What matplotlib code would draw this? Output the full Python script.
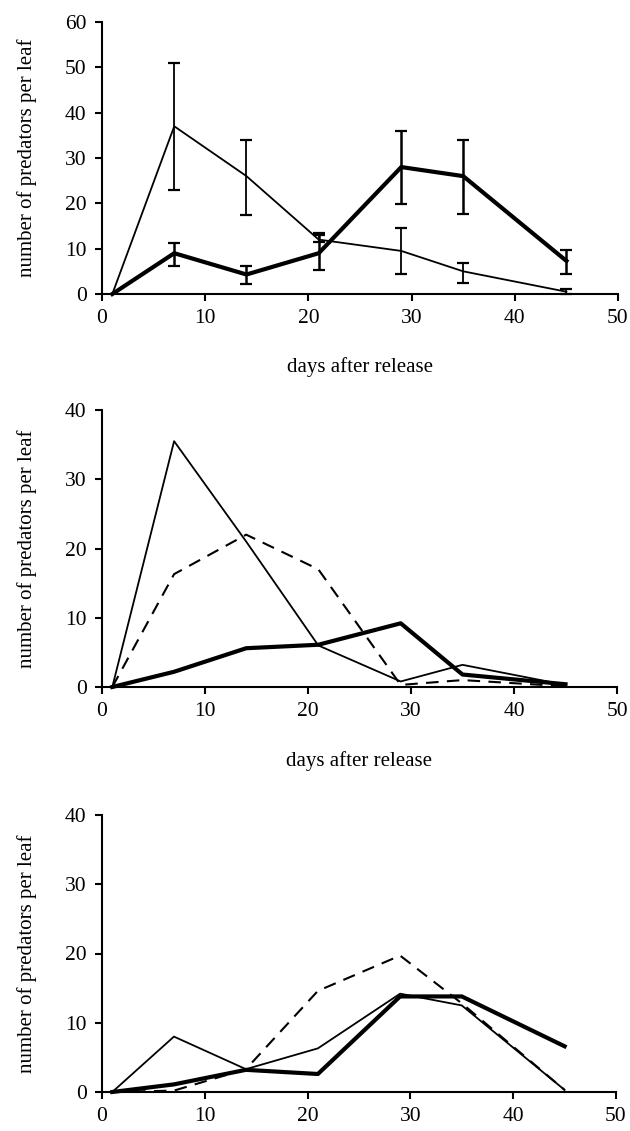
import matplotlib
matplotlib.use("Agg")
import matplotlib.pyplot as plt

plt.rcParams['font.family'] = ['Liberation Serif', 'DejaVu Serif']

days = [1, 7, 14, 21, 29, 35, 45]

# Panel 1
p1_thin = [0, 37, 26, 12, 9.5, 5, 0.5]
p1_thin_lo = [0, 23, 17.5, 11.5, 4.5, 2.5, 0]
p1_thin_hi = [0, 51, 34, 13, 14.5, 6.8, 1.0]
p1_thick = [0, 9, 4.3, 9, 28, 26, 7.3]
p1_thick_lo = [0, 6.2, 2.3, 5.3, 19.8, 17.7, 4.5]
p1_thick_hi = [0, 11.2, 6.2, 13.5, 36, 34, 9.8]

# Panel 2
p2_thin = [0, 35.5, 21, 6, 0.8, 3.2, 0.3]
p2_dash = [0, 16.3, 22, 17, 0.3, 1.0, 0.1]
p2_thick = [0, 2.2, 5.6, 6.1, 9.2, 1.8, 0.4]

# Panel 3
p3_thin = [0, 8, 3.3, 6.3, 14.2, 12.5, 0.3]
p3_dash = [0, 0.2, 3.3, 14.6, 19.7, 12.8, 0.3]
p3_thick = [0, 1.1, 3.2, 2.6, 13.8, 13.8, 6.6]

xticks = [0, 10, 20, 30, 40, 50]
ylabel = "number of predators per leaf"
xlabel = "days after release"

fig = plt.figure(figsize=(6.30, 11.31), dpi=100)
W, H = 630, 1131

def make_ax(top_px, bottom_px, left_px=102, right_px=617):
    return fig.add_axes([left_px / W, 1 - bottom_px / H,
                         (right_px - left_px) / W, (bottom_px - top_px) / H])

def style(ax, ymax, ystep, left_px, right_px):
    ax.set_xlim(0, 50)
    ax.set_ylim(0, ymax)
    ax.set_xticks(xticks)
    ax.set_yticks(range(0, ymax + 1, ystep))
    for s in ['top', 'right']:
        ax.spines[s].set_visible(False)
    for s in ['left', 'bottom']:
        ax.spines[s].set_linewidth(1.5)
    ax.tick_params(axis='both', direction='out', length=5, width=1.5,
                   labelsize=15.5, pad=6)
    ax.set_ylabel(ylabel, fontsize=15)
    ax.yaxis.set_label_coords((37 - left_px) / (right_px - left_px), 0.5)

def err(ax, y, lo, hi, lw):
    ylo = [yy - l for yy, l in zip(y, lo)][1:]
    yhi = [h - yy for yy, h in zip(y, hi)][1:]
    ax.errorbar(days[1:], y[1:], yerr=[ylo, yhi], fmt='none',
                ecolor='black', elinewidth=lw, capsize=4, capthick=1.6, clip_on=False)

ax1 = make_ax(22, 294, 102, 618)
ax1.plot(days, p1_thin, color='black', lw=1.3, clip_on=False)
ax1.plot(days, p1_thick, color='black', lw=3.0, clip_on=False)
err(ax1, p1_thin, p1_thin_lo, p1_thin_hi, 1.3)
err(ax1, p1_thick, p1_thick_lo, p1_thick_hi, 1.8)
style(ax1, 60, 10, 102, 618)
ax1.set_xlabel(xlabel, fontsize=15)
ax1.xaxis.set_label_coords(0.5, (294 - 357) / (294 - 22))

ax2 = make_ax(410, 687, 102, 617)
ax2.plot(days, p2_thin, color='black', lw=1.3, clip_on=False)
ax2.plot(days, p2_dash, color='black', lw=1.5, ls=(0, (6, 4)), clip_on=False)
ax2.plot(days, p2_thick, color='black', lw=3.0, clip_on=False)
style(ax2, 40, 10, 102, 617)
ax2.set_xlabel(xlabel, fontsize=15)
ax2.xaxis.set_label_coords(0.5, (687 - 751) / (687 - 410))

ax3 = make_ax(815, 1092, 102, 616)
ax3.plot(days, p3_thin, color='black', lw=1.3, clip_on=False)
ax3.plot(days, p3_dash, color='black', lw=1.5, ls=(0, (6, 4)), clip_on=False)
ax3.plot(days, p3_thick, color='black', lw=3.0, clip_on=False)
style(ax3, 40, 10, 102, 616)

fig.savefig("out.png", dpi=100)
